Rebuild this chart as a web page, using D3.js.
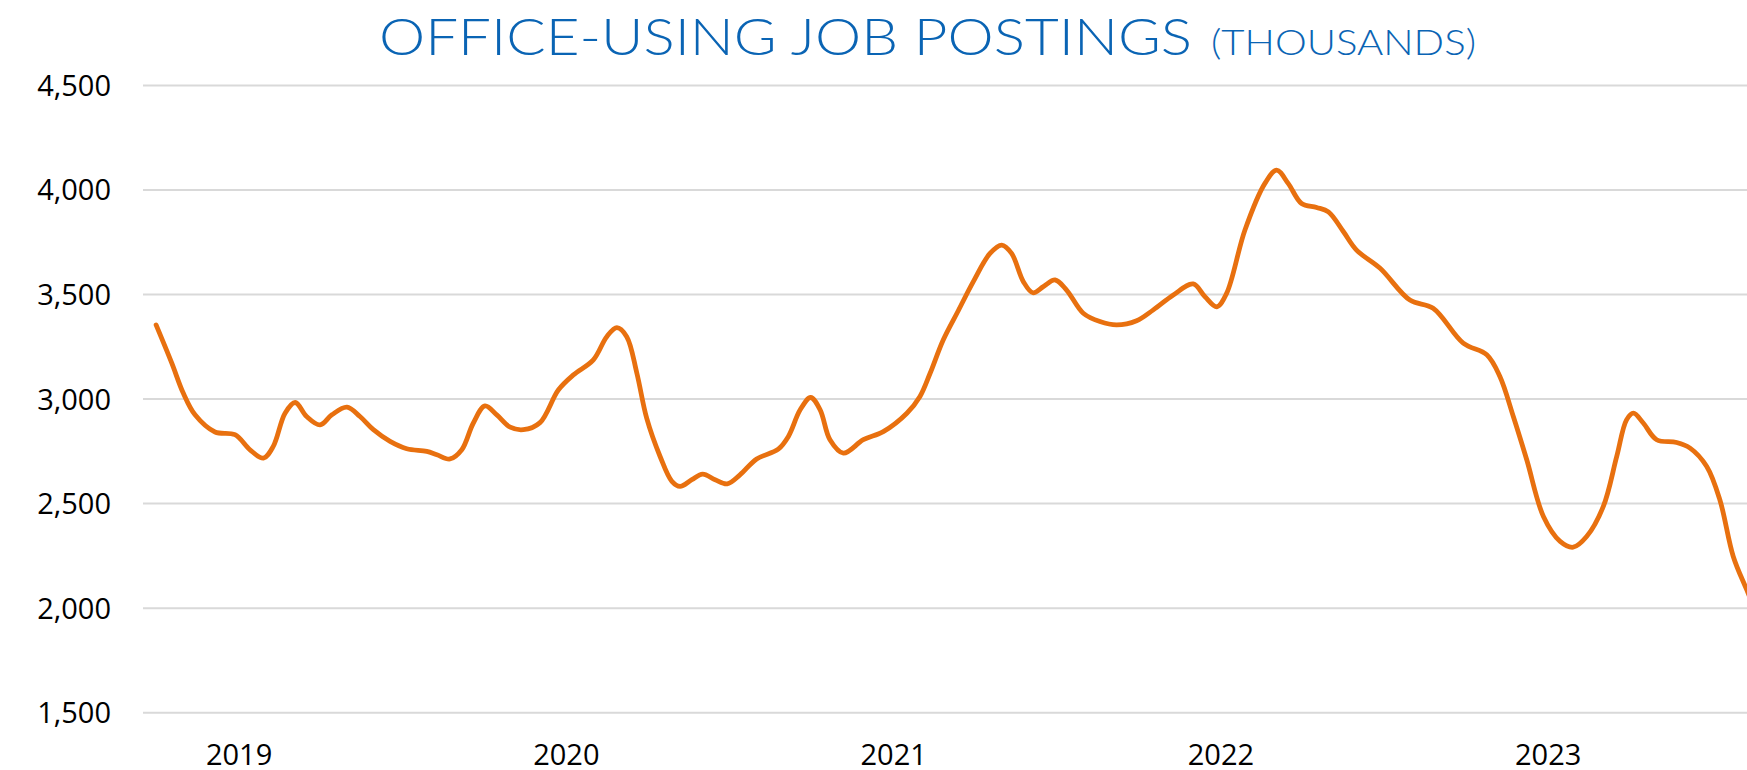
<!DOCTYPE html>
<html>
<head>
<meta charset="utf-8">
<script src="https://cdn.jsdelivr.net/npm/d3@7"></script>
<style>
  html, body { margin: 0; padding: 0; background: #ffffff; }
  svg { display: block; }
</style>
</head>
<body>
<svg id="chart" width="1747" height="770"></svg>
<script>
// ---- Data ----
const titleMain = "OFFICE-USING JOB POSTINGS";
const titleUnit = "(THOUSANDS)";

// time in decimal years
const timeYears = [
  2018.748, 2018.796, 2018.831, 2018.867, 2018.928, 2018.989, 2019.035, 2019.076, 2019.106, 2019.142,
  2019.173, 2019.208, 2019.249, 2019.285, 2019.331, 2019.371, 2019.412, 2019.463, 2019.514, 2019.575,
  2019.606, 2019.646, 2019.682, 2019.717, 2019.753, 2019.789, 2019.830, 2019.870, 2019.921, 2019.977,
  2020.023, 2020.084, 2020.125, 2020.156, 2020.186, 2020.217, 2020.247, 2020.288, 2020.324, 2020.349,
  2020.385, 2020.418, 2020.456, 2020.493, 2020.532, 2020.583, 2020.649, 2020.680, 2020.716, 2020.748,
  2020.777, 2020.807, 2020.848, 2020.909, 2020.970, 2021.042, 2021.082, 2021.113, 2021.153, 2021.199,
  2021.245, 2021.296, 2021.332, 2021.362, 2021.398, 2021.427, 2021.459, 2021.495, 2021.530, 2021.581,
  2021.632, 2021.683, 2021.744, 2021.795, 2021.856, 2021.917, 2021.953, 2021.989, 2022.019, 2022.075,
  2022.136, 2022.172, 2022.207, 2022.248, 2022.294, 2022.330, 2022.375, 2022.416, 2022.488, 2022.579,
  2022.650, 2022.742, 2022.814, 2022.854, 2022.895, 2022.936, 2022.987, 2023.038, 2023.078, 2023.119,
  2023.170, 2023.211, 2023.241, 2023.262, 2023.292, 2023.333, 2023.394, 2023.435, 2023.486, 2023.526,
  2023.567, 2023.608, 2023.650
];

const postings = [
  3352, 3169, 3026, 2922, 2840, 2827, 2755, 2715, 2771, 2930,
  2981, 2914, 2874, 2922, 2959, 2914, 2851, 2795, 2760, 2747,
  2731, 2711, 2755, 2882, 2965, 2922, 2863, 2851, 2885, 3041,
  3113, 3185, 3296, 3339, 3296, 3121, 2906, 2723, 2604, 2580,
  2612, 2639, 2612, 2592, 2635, 2711, 2758, 2819, 2946, 3005,
  2946, 2803, 2739, 2803, 2842, 2930, 3010, 3121, 3280, 3420,
  3559, 3694, 3734, 3694, 3559, 3506, 3535, 3567, 3519, 3408,
  3368, 3352, 3372, 3424, 3495, 3548, 3487, 3439, 3503, 3806,
  4029, 4092, 4029, 3933, 3914, 3893, 3800, 3710, 3623, 3471,
  3432, 3265, 3209, 3105, 2914, 2707, 2436, 2317, 2289, 2340,
  2484, 2723, 2898, 2930, 2883, 2803, 2790, 2763, 2675, 2516,
  2245, 2086, 1930
];

const yTicks = [1500, 2000, 2500, 3000, 3500, 4000, 4500];
const xTickYears = [2019, 2020, 2021, 2022, 2023];

// ---- Layout ----
const W = 1747, H = 770;
const plotLeft = 143, plotRight = 1747, plotTop = 84.9, plotBottom = 712.2;
const lineColor = "#E8700F";
const titleColor = "#0A64B4";
const gridColor = "#D9D9D9";
const labelFont = "'Open Sans', 'Noto Sans', sans-serif";

const svg = d3.select("#chart");

const x = d3.scaleLinear().domain([2018.708, 2023.609]).range([plotLeft, plotRight]);
const y = d3.scaleLinear().domain([1500, 4500]).range([plotBottom, plotTop]);

// Y axis with gridlines
const yAxis = d3.axisLeft(y)
  .tickValues(yTicks)
  .tickFormat(d3.format(","))
  .tickSizeInner(-(plotRight - plotLeft))
  .tickSizeOuter(0)
  .tickPadding(32);

const gy = svg.append("g")
  .attr("transform", `translate(${plotLeft},0)`)
  .call(yAxis);
gy.select(".domain").remove();
gy.selectAll(".tick line")
  .attr("stroke", gridColor)
  .attr("stroke-width", 2);
gy.selectAll(".tick text")
  .attr("fill", "#000")
  .attr("font-family", labelFont)
  .attr("font-size", 29)
  .attr("dy", "0.36em");

// X axis labels
const xAxis = d3.axisBottom(x)
  .tickValues(xTickYears)
  .tickFormat(d3.format("d"))
  .tickSize(0)
  .tickPadding(32);

const gx = svg.append("g")
  .attr("transform", `translate(0,${plotBottom})`)
  .call(xAxis);
gx.select(".domain").remove();
gx.selectAll(".tick text")
  .attr("fill", "#000")
  .attr("font-family", labelFont)
  .attr("font-size", 29);

// Line
const data = timeYears.map((t, i) => ({ t, v: postings[i] }));
const line = d3.line()
  .x(d => x(d.t))
  .y(d => y(d.v))
  .curve(d3.curveCatmullRom.alpha(0.5));

svg.append("path")
  .datum(data)
  .attr("fill", "none")
  .attr("stroke", lineColor)
  .attr("stroke-width", 4.8)
  .attr("stroke-linejoin", "round")
  .attr("stroke-linecap", "round")
  .attr("d", line);

// Title
const title = svg.append("text")
  .attr("x", 379)
  .attr("y", 55)
  .attr("fill", titleColor)
  .attr("font-family", "Lato, 'Open Sans', sans-serif")
  .attr("font-weight", 300);

title.append("tspan")
  .attr("font-size", 51)
  .attr("textLength", 813)
  .attr("lengthAdjust", "spacingAndGlyphs")
  .text(titleMain);

title.append("tspan")
  .attr("x", 1211)
  .attr("font-size", 35)
  .attr("textLength", 265)
  .attr("lengthAdjust", "spacingAndGlyphs")
  .text(titleUnit);
</script>
</body>
</html>
